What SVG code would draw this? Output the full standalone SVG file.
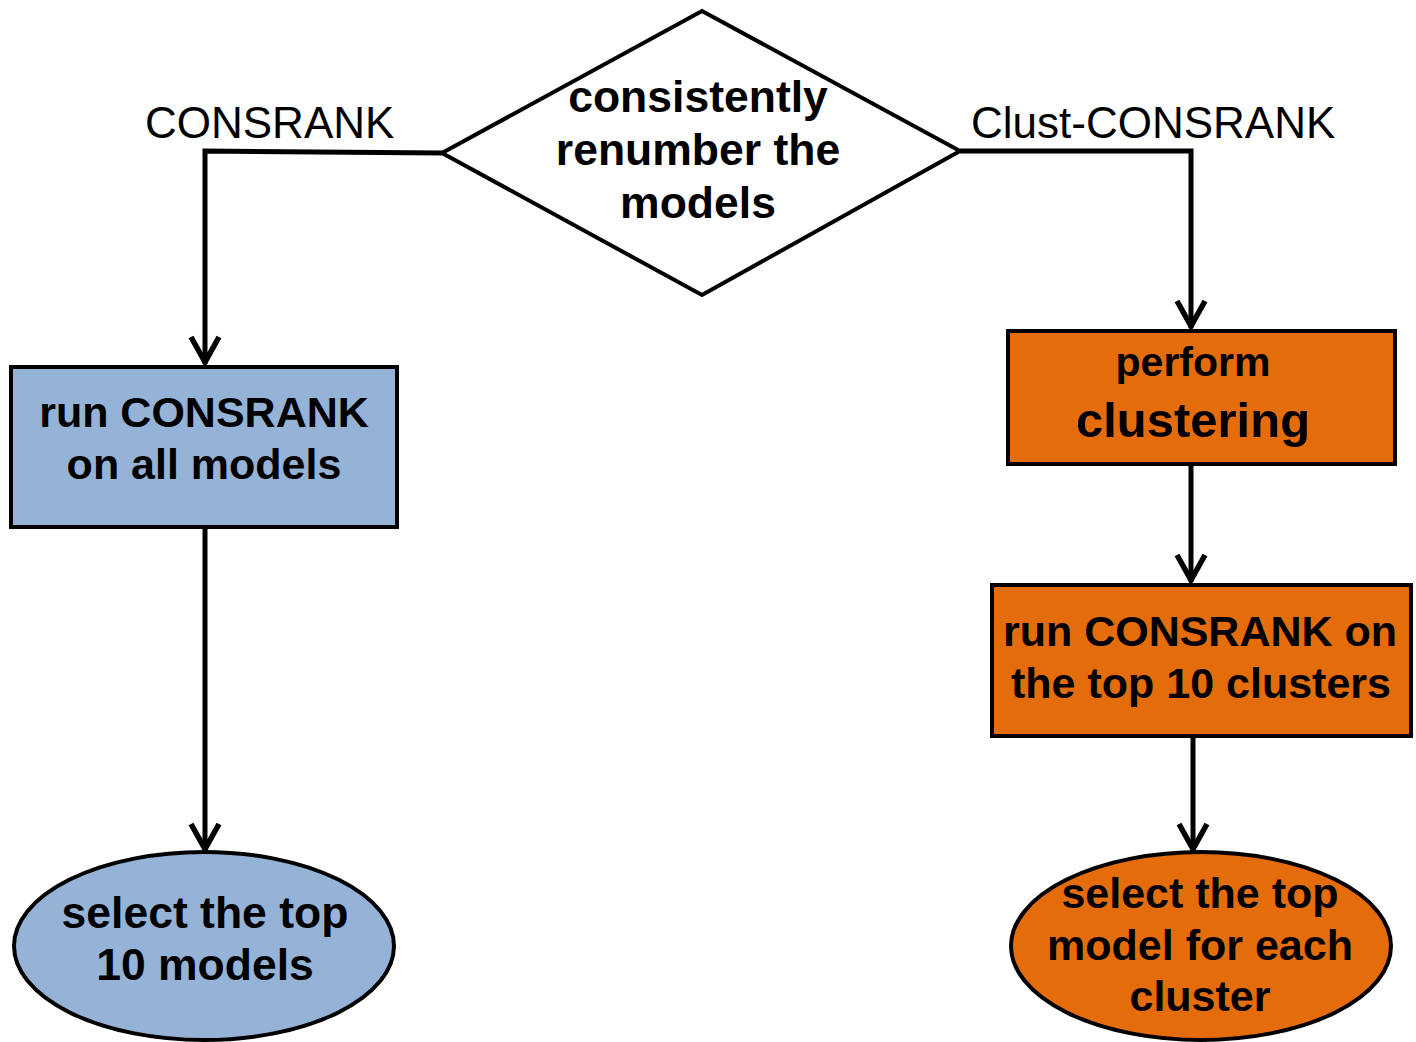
<svg xmlns="http://www.w3.org/2000/svg" width="1416" height="1042" viewBox="0 0 1416 1042">
<style>
.conn{fill:none;stroke:#000;stroke-width:5;marker-end:url(#arr)}
.node{stroke:#000;stroke-width:4}
.blue{fill:#95B3D7}
.orange{fill:#E46C0A}
.t{font-family:"Liberation Sans",Arial,sans-serif;font-weight:bold;font-size:43px;text-anchor:middle;fill:#000}
.lbl{font-family:"Liberation Sans",Arial,sans-serif;font-size:44px;fill:#000}
</style>
<defs>
<marker id="arr" markerUnits="userSpaceOnUse" markerWidth="50" markerHeight="50" viewBox="-40 -25 50 50" refX="0" refY="0" orient="auto">
<path d="M-27,-14 L-2,0 L-27,14" fill="none" stroke="#000" stroke-width="5.5"/>
</marker>
</defs>
<g id="connectors">
<path class="conn" d="M442,153 L205,151 L205,364"/>
<path class="conn" d="M205,527 L205,851"/>
<path class="conn" d="M960,151 L1191,151 L1191,328"/>
<path class="conn" d="M1191,464 L1191,582"/>
<path class="conn" d="M1193,737 L1193,851"/>
</g>
<g id="label-consrank"><text class="lbl" x="145" y="138">CONSRANK</text></g>
<g id="label-clust"><text class="lbl" x="971" y="138">Clust-CONSRANK</text></g>
<g id="renumber">
<polygon class="node" fill="#fff" points="702,11 960,151 702,295 442,153"/>
<text class="t" x="698" y="112" style="font-size:44.5px">consistently</text>
<text class="t" x="698" y="165" style="font-size:44.5px">renumber the</text>
<text class="t" x="698" y="218" style="font-size:44.5px">models</text>
</g>
<g id="run-all">
<rect class="node blue" x="11" y="367" width="386" height="160"/>
<text class="t" x="204" y="427">run CONSRANK</text>
<text class="t" x="204" y="479">on all models</text>
</g>
<g id="select-10">
<ellipse class="node blue" cx="204" cy="946" rx="190" ry="94"/>
<text class="t" x="205" y="928" style="font-size:44.5px">select the top</text>
<text class="t" x="205" y="980" style="font-size:44.5px">10 models</text>
</g>
<g id="cluster">
<rect class="node orange" x="1008" y="331" width="387" height="133"/>
<text class="t" x="1193" y="376" style="font-size:41px">perform</text>
<text class="t" x="1193" y="437" style="font-size:49px">clustering</text>
</g>
<g id="run-top10">
<rect class="node orange" x="992" y="585" width="419" height="151"/>
<text class="t" x="1200" y="646">run CONSRANK on</text>
<text class="t" x="1201" y="698">the top 10 clusters</text>
</g>
<g id="select-each">
<ellipse class="node orange" cx="1201" cy="946" rx="190" ry="94"/>
<text class="t" x="1200" y="908">select the top</text>
<text class="t" x="1200" y="960">model for each</text>
<text class="t" x="1200" y="1011">cluster</text>
</g>
</svg>
